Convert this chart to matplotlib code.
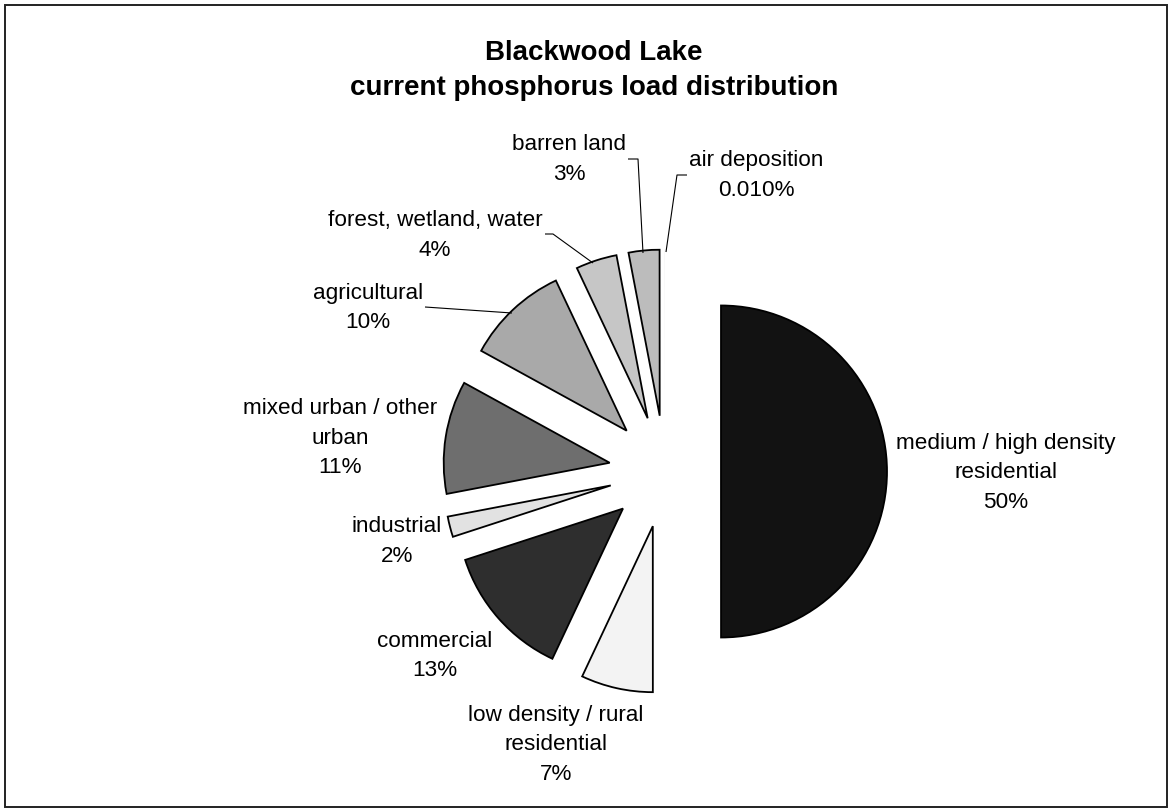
import matplotlib
matplotlib.use("Agg")
import matplotlib.pyplot as plt
from matplotlib.patches import Rectangle

# Canvas size in pixels; the axes use pixel units so layout numbers read directly.
W, H = 1171, 810

# ---- data -------------------------------------------------------------
categories = [
    "medium / high density\nresidential",
    "low density / rural\nresidential",
    "commercial",
    "industrial",
    "mixed urban / other\nurban",
    "agricultural",
    "forest, wetland, water",
    "barren land",
    "air deposition",
]
load_share = [50, 7, 13, 2, 11, 10, 4, 3, 0.01]   # percent of total P load

# ---- styling ----------------------------------------------------------
fills = ["#121212", "#f3f3f3", "#2e2e2e", "#e2e2e2", "#6e6e6e",
         "#a9a9a9", "#c6c6c6", "#bcbcbc", "#c0c0c0"]

# label anchor: (centre x, centre y of first text line), in pixels from top-left
label_pos = [
    (1006, 441), (556, 713), (435, 639), (397, 524), (340, 406),
    (368, 291), (435, 218), (569, 142), (756, 158),
]
LINE_STEP = 29.5

# leader lines (pixel coords, from top-left)
leaders = {
    "agricultural": [(425, 307), (512, 313)],
    "forest, wetland, water": [(545, 234), (553, 234), (593, 263)],
    "barren land": [(628, 159), (638, 159), (643, 253)],
    "air deposition": [(687, 175), (677, 175), (666, 252)],
}

FONT = ["Liberation Sans", "Arial", "DejaVu Sans"]
plt.rcParams["font.family"] = FONT


def py(y):
    """Convert a top-left pixel row into the axes' y coordinate."""
    return H - y


def pct_label(v):
    return f"{v:.0f}%" if v >= 1 else f"{v:.3f}%"


fig = plt.figure(figsize=(W / 100, H / 100), dpi=100)
fig.patch.set_facecolor("white")
ax = fig.add_axes([0, 0, 1, 1])

wedges, _ = ax.pie(
    load_share,
    explode=[56] * len(load_share),
    colors=fills,
    startangle=90,
    counterclock=False,
    radius=166,
    center=(665, py(471.5)),
    normalize=True,
    wedgeprops=dict(edgecolor="black", linewidth=1.3, joinstyle="miter"),
)
# the sliver for air deposition is too thin to show an outline
wedges[-1].set_linewidth(0)

ax.set_xlim(0, W)
ax.set_ylim(0, H)
ax.set_aspect("auto")
ax.axis("off")

# slice labels: category name lines followed by the percentage
for name, v, (x, y0) in zip(categories, load_share, label_pos):
    lines = name.split("\n") + [pct_label(v)]
    for i, line in enumerate(lines):
        ax.text(x, py(y0 + 8 + i * LINE_STEP), line, ha="center",
                va="baseline", fontsize=16.2, color="black")

for pts in leaders.values():
    xs = [p[0] for p in pts]
    ys = [py(p[1]) for p in pts]
    ax.plot(xs, ys, color="black", linewidth=0.8, solid_capstyle="butt")

# title
ax.text(594, py(60), "Blackwood Lake", ha="center", va="baseline",
        fontsize=20, fontweight="bold")
ax.text(594, py(95), "current phosphorus load distribution", ha="center",
        va="baseline", fontsize=20, fontweight="bold")

# chart-area frame
ax.add_patch(Rectangle((4.5, py(806.5)), 1162, 802, fill=False,
                       edgecolor="#222222", linewidth=1.4, clip_on=False))

fig.savefig("out.png", dpi=100, facecolor="white")
